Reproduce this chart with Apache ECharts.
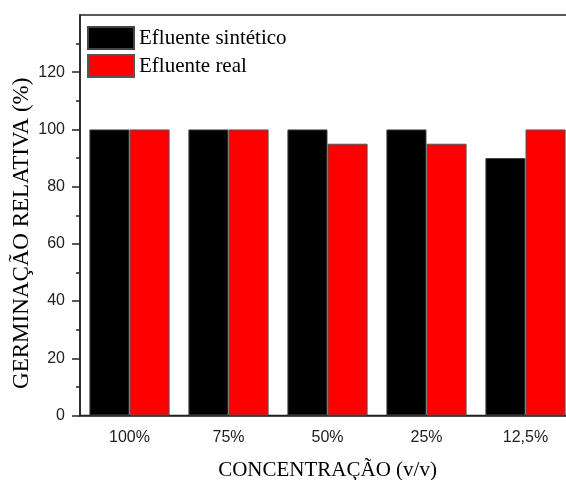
<!DOCTYPE html>
<html>
<head>
<meta charset="utf-8">
<script src="https://cdn.jsdelivr.net/npm/echarts@6/dist/echarts.min.js"></script>
<style>html,body{margin:0;padding:0;background:#fff}#c{width:566px;height:480px}</style>
</head>
<body>
<div id="c"></div>
<script>
const categories = ['100%', '75%', '50%', '25%', '12,5%'];
const sintetico = [100, 100, 100, 100, 90];
const real = [100, 100, 95, 95, 100];
const seriesNames = ['Efluente sintético', 'Efluente real'];
const yTicks = [0, 20, 40, 60, 80, 100, 120];
const yTitle = 'GERMINAÇÃO RELATIVA (%)';
const xTitle = 'CONCENTRAÇÃO (v/v)';

const chart = echarts.init(document.getElementById('c'), null, {renderer: 'canvas'});
const axisColor = '#222';
chart.setOption({
  animation: false,
  grid: {left: 80, width: 495, top: 15, height: 400.5, outerBoundsMode: 'none', containLabel: false,
    show: true, borderColor: axisColor, borderWidth: 1.5, backgroundColor: 'transparent'},
  legend: {
    orient: 'vertical', left: 87, top: 26, itemWidth: 46, itemHeight: 22, itemGap: 4,
    icon: 'rect', padding: 0,
    textStyle: {fontFamily: 'Liberation Serif', fontSize: 21, lineHeight: 22, color: '#000', padding: [2, 0, 0, 0]},
    data: seriesNames
  },
  xAxis: [{
    type: 'category', data: categories,
    axisLine: {lineStyle: {color: axisColor, width: 1.5}},
    axisTick: {alignWithLabel: true, length: 8, lineStyle: {color: axisColor, width: 1.5}},
    axisLabel: {fontFamily: 'Liberation Sans', fontSize: 16, color: '#222', margin: 14},
    name: xTitle, nameLocation: 'middle', nameGap: 44, nameMoveOverlap: false,
    nameTextStyle: {fontFamily: 'Liberation Serif', fontSize: 21, color: '#000'}
  }, {
    type: 'category', data: categories, position: 'bottom',
    axisLine: {show: false},
    axisTick: {length: 4, lineStyle: {color: axisColor, width: 1.5}},
    axisLabel: {show: false}
  }],
  yAxis: {
    type: 'value', min: 0, max: 140, interval: 20,
    splitLine: {show: false},
    axisLine: {show: true, lineStyle: {color: axisColor, width: 1.5}},
    axisTick: {show: true, length: 8, customValues: yTicks, lineStyle: {color: axisColor, width: 1.5}},
    minorTick: {show: true, splitNumber: 2, length: 4, lineStyle: {color: axisColor, width: 1.5}},
    axisLabel: {fontFamily: 'Liberation Sans', fontSize: 16, color: '#222', margin: 15, customValues: yTicks},
    name: yTitle, nameLocation: 'middle', nameGap: 47, nameMoveOverlap: false,
    nameTextStyle: {fontFamily: 'Liberation Serif', fontSize: 23, color: '#000', padding: [0, 0, 0, -36]}
  },
  series: [{
    name: seriesNames[0], type: 'bar', data: sintetico, barGap: '0%', barCategoryGap: '19%',
    itemStyle: {color: '#000', borderColor: '#444', borderWidth: 1}
  }, {
    name: seriesNames[1], type: 'bar', data: real,
    itemStyle: {color: '#ff0000', borderColor: '#555', borderWidth: 1}
  }]
});
</script>
</body>
</html>
